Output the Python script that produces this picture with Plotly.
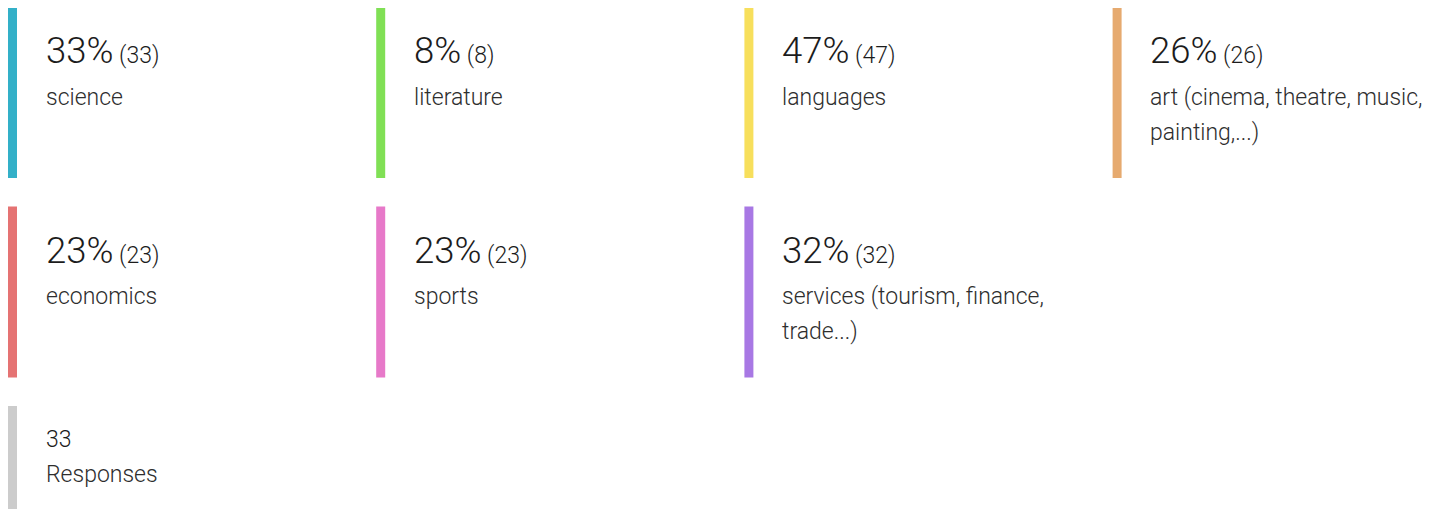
import plotly.graph_objects as go

# ---- data ----
categories = ["science", "literature", "languages", "art (cinema, theatre, music,\npainting,...)",
              "economics", "sports", "services (tourism, finance,\ntrade...)"]
counts = [33, 8, 47, 26, 23, 23, 32]
percents = [33, 8, 47, 26, 23, 23, 32]
colors = ["#33B0C8", "#80E055", "#F7DF5C", "#E6AA6F", "#E57373", "#E779C9", "#A878E4"]
total_responses = 33
total_label = "Responses"
total_color = "#CCCCCC"

# ---- layout constants (page pixel coordinates) ----
PAGE_OFF = 8
FIG_W, FIG_H = 1426, 501
COL_X0 = 8
COL_STEP = 368.2
ROW_Y0 = 7
ROW_STEP = 199.5
CARD_H = 171
BAR_W = 9
TEXT_DX = 36.7
NCOLS = 4
ASC = 0.928  # Roboto ascent ratio

FONT = "Roboto Light, Roboto"
BIG = 36.5
SMALL = 23
LINE = 35

fig = go.Figure()
shapes = []
annotations = []


def text_top(baseline, size):
    return baseline - ASC * size


def add_card(idx, color, first_line_html, first_size, lines, first_baseline_dy, bar_bottom=None):
    r, c = divmod(idx, NCOLS)
    x0 = COL_X0 + c * COL_STEP
    y0 = ROW_Y0 + r * ROW_STEP
    y1 = y0 + CARD_H if bar_bottom is None else bar_bottom
    shapes.append(dict(type="rect", xref="x", yref="y", x0=x0, x1=x0 + BAR_W, y0=y0, y1=y1,
                       fillcolor=color, line=dict(width=0), layer="below"))
    base = y0 + first_baseline_dy
    annotations.append(dict(x=x0 + TEXT_DX, y=text_top(base, first_size), xref="x", yref="y",
                            xanchor="left", yanchor="top", showarrow=False, borderpad=0,
                            text=first_line_html, align="left",
                            font=dict(family=FONT, size=first_size, color="#1c1c1c", weight=300)))
    for k, ln in enumerate(lines):
        b = base + (k + 1) * LINE + (7 if first_size == BIG else 0)
        annotations.append(dict(x=x0 + TEXT_DX, y=text_top(b, SMALL), xref="x", yref="y",
                                xanchor="left", yanchor="top", showarrow=False, borderpad=0,
                                text=ln, align="left",
                                font=dict(family=FONT, size=SMALL, color="#2e2e2e", weight=300)))


for i, cat in enumerate(categories):
    head = f"{percents[i]}%<span style='font-size:{SMALL}px'> ({counts[i]})</span>"
    add_card(i, colors[i], head, BIG, cat.split("\n"), 55)

# responses card (row 3)
idx = 8
add_card(idx, total_color, str(total_responses), SMALL, [total_label], 40.5,
         bar_bottom=PAGE_OFF + FIG_H + 20)

fig.update_layout(
    width=FIG_W, height=FIG_H,
    margin=dict(l=0, r=0, t=0, b=0),
    paper_bgcolor="white", plot_bgcolor="white",
    xaxis=dict(range=[PAGE_OFF, PAGE_OFF + FIG_W], visible=False, fixedrange=True),
    yaxis=dict(range=[PAGE_OFF + FIG_H, PAGE_OFF], visible=False, fixedrange=True),
    shapes=shapes, annotations=annotations, showlegend=False,
)
fig.write_html("out.html")
